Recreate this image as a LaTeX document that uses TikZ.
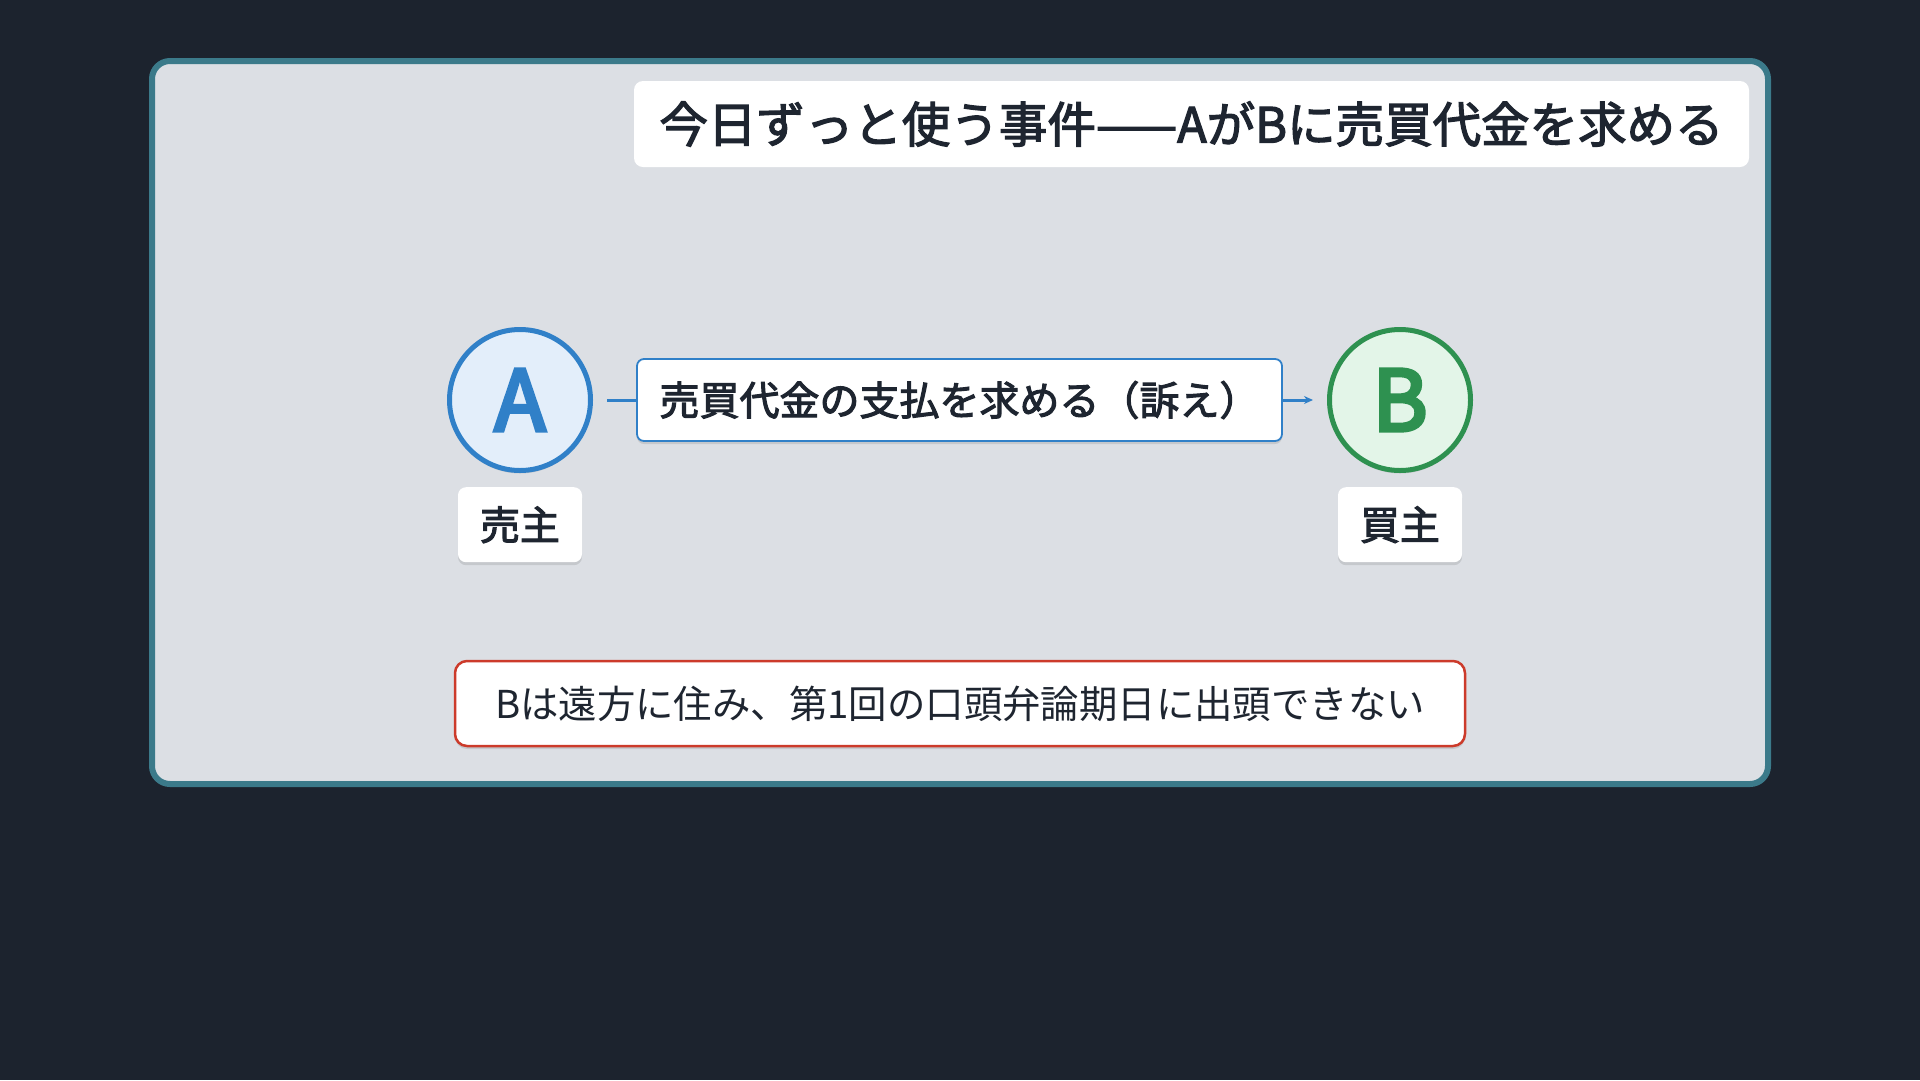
\documentclass[tikz,border=0pt]{standalone}
\usepackage{fontspec}
\newfontfamily\cjk{Noto Sans CJK JP}
\newfontfamily\cjkmid[FakeBold=2.6]{Noto Sans CJK JP}
\newfontfamily\cjkheavy[FakeBold=4.5]{Noto Sans CJK JP}
\usetikzlibrary{positioning,shadows,arrows.meta}
\definecolor{bgdark}{HTML}{1C232E}
\definecolor{panelfill}{HTML}{DCDFE4}
\definecolor{panelline}{HTML}{3B7A8A}
\definecolor{textdark}{HTML}{1E2530}
\definecolor{partyA}{HTML}{3080C8}
\definecolor{fillA}{HTML}{E3EEFA}
\definecolor{partyB}{HTML}{2E9150}
\definecolor{fillB}{HTML}{E3F5E8}
\definecolor{noteline}{HTML}{CC3B2B}
\begin{document}
\begin{tikzpicture}[x=1pt, y=-1pt, node distance={14pt},
        soft/.style = {drop shadow={shadow xshift=0pt, shadow yshift=-3pt, opacity=0.10, fill=black}},
        party/.style = {circle, line width=5pt, minimum size=141pt, inner sep=0pt, soft, font=\cjkheavy\fontsize{84}{84}\selectfont},
        role/.style = {fill=white, rounded corners=8pt, minimum width=124pt, minimum height=75pt, soft, text=textdark, font=\cjkmid\fontsize{40}{40}\selectfont},
        claim/.style = {fill=white, draw=partyA, line width=1.8pt, rounded corners=7pt, minimum width=645pt, minimum height=82pt, soft, text=textdark, font=\cjkmid\fontsize{40}{40}\selectfont},
        conn/.style = {draw=partyA, line width=3pt}]

            \fill[bgdark] (0,0) rectangle (1920,1080);
            \draw[panelline, fill=panelfill, line width=6pt, rounded corners=18pt] (152,61) rectangle (1768,784);

            \node[fill=white, rounded corners=9pt, minimum width=1115pt, minimum height=86pt, text=textdark, font=\cjkmid\fontsize{48.5}{48.5}\selectfont] (title) at (1191.5,124) {今日ずっと使う事件——AがBに売買代金を求める};

            \node[party, draw=partyA, fill=fillA, text=partyA] (A) at (520,400) {A};
            \node[party, draw=partyB, fill=fillB, text=partyB] (B) at (1400,400) {B};
            \node[role] (seller) [below=of A] {売主};
            \node[role] (buyer) [below=of B] {買主};
            \node[claim] (suit) at (959.5,400) {売買代金の支払を求める（訴え）};

            \draw[conn, shorten <=14pt] (A) -- (suit);
            \draw[conn, -{Stealth[length=9pt, width=8pt]}, shorten >=14pt] (suit) -- (B);

            \node[fill=white, draw=noteline, line width=2.5pt, rounded corners=12pt, minimum width=1010pt, minimum height=85pt, soft, text=textdark, font=\cjk\fontsize{38.4}{38.4}\selectfont] (note) at (960,703.5) {Bは遠方に住み、第1回の口頭弁論期日に出頭できない};
        \end{tikzpicture}
\end{document}
